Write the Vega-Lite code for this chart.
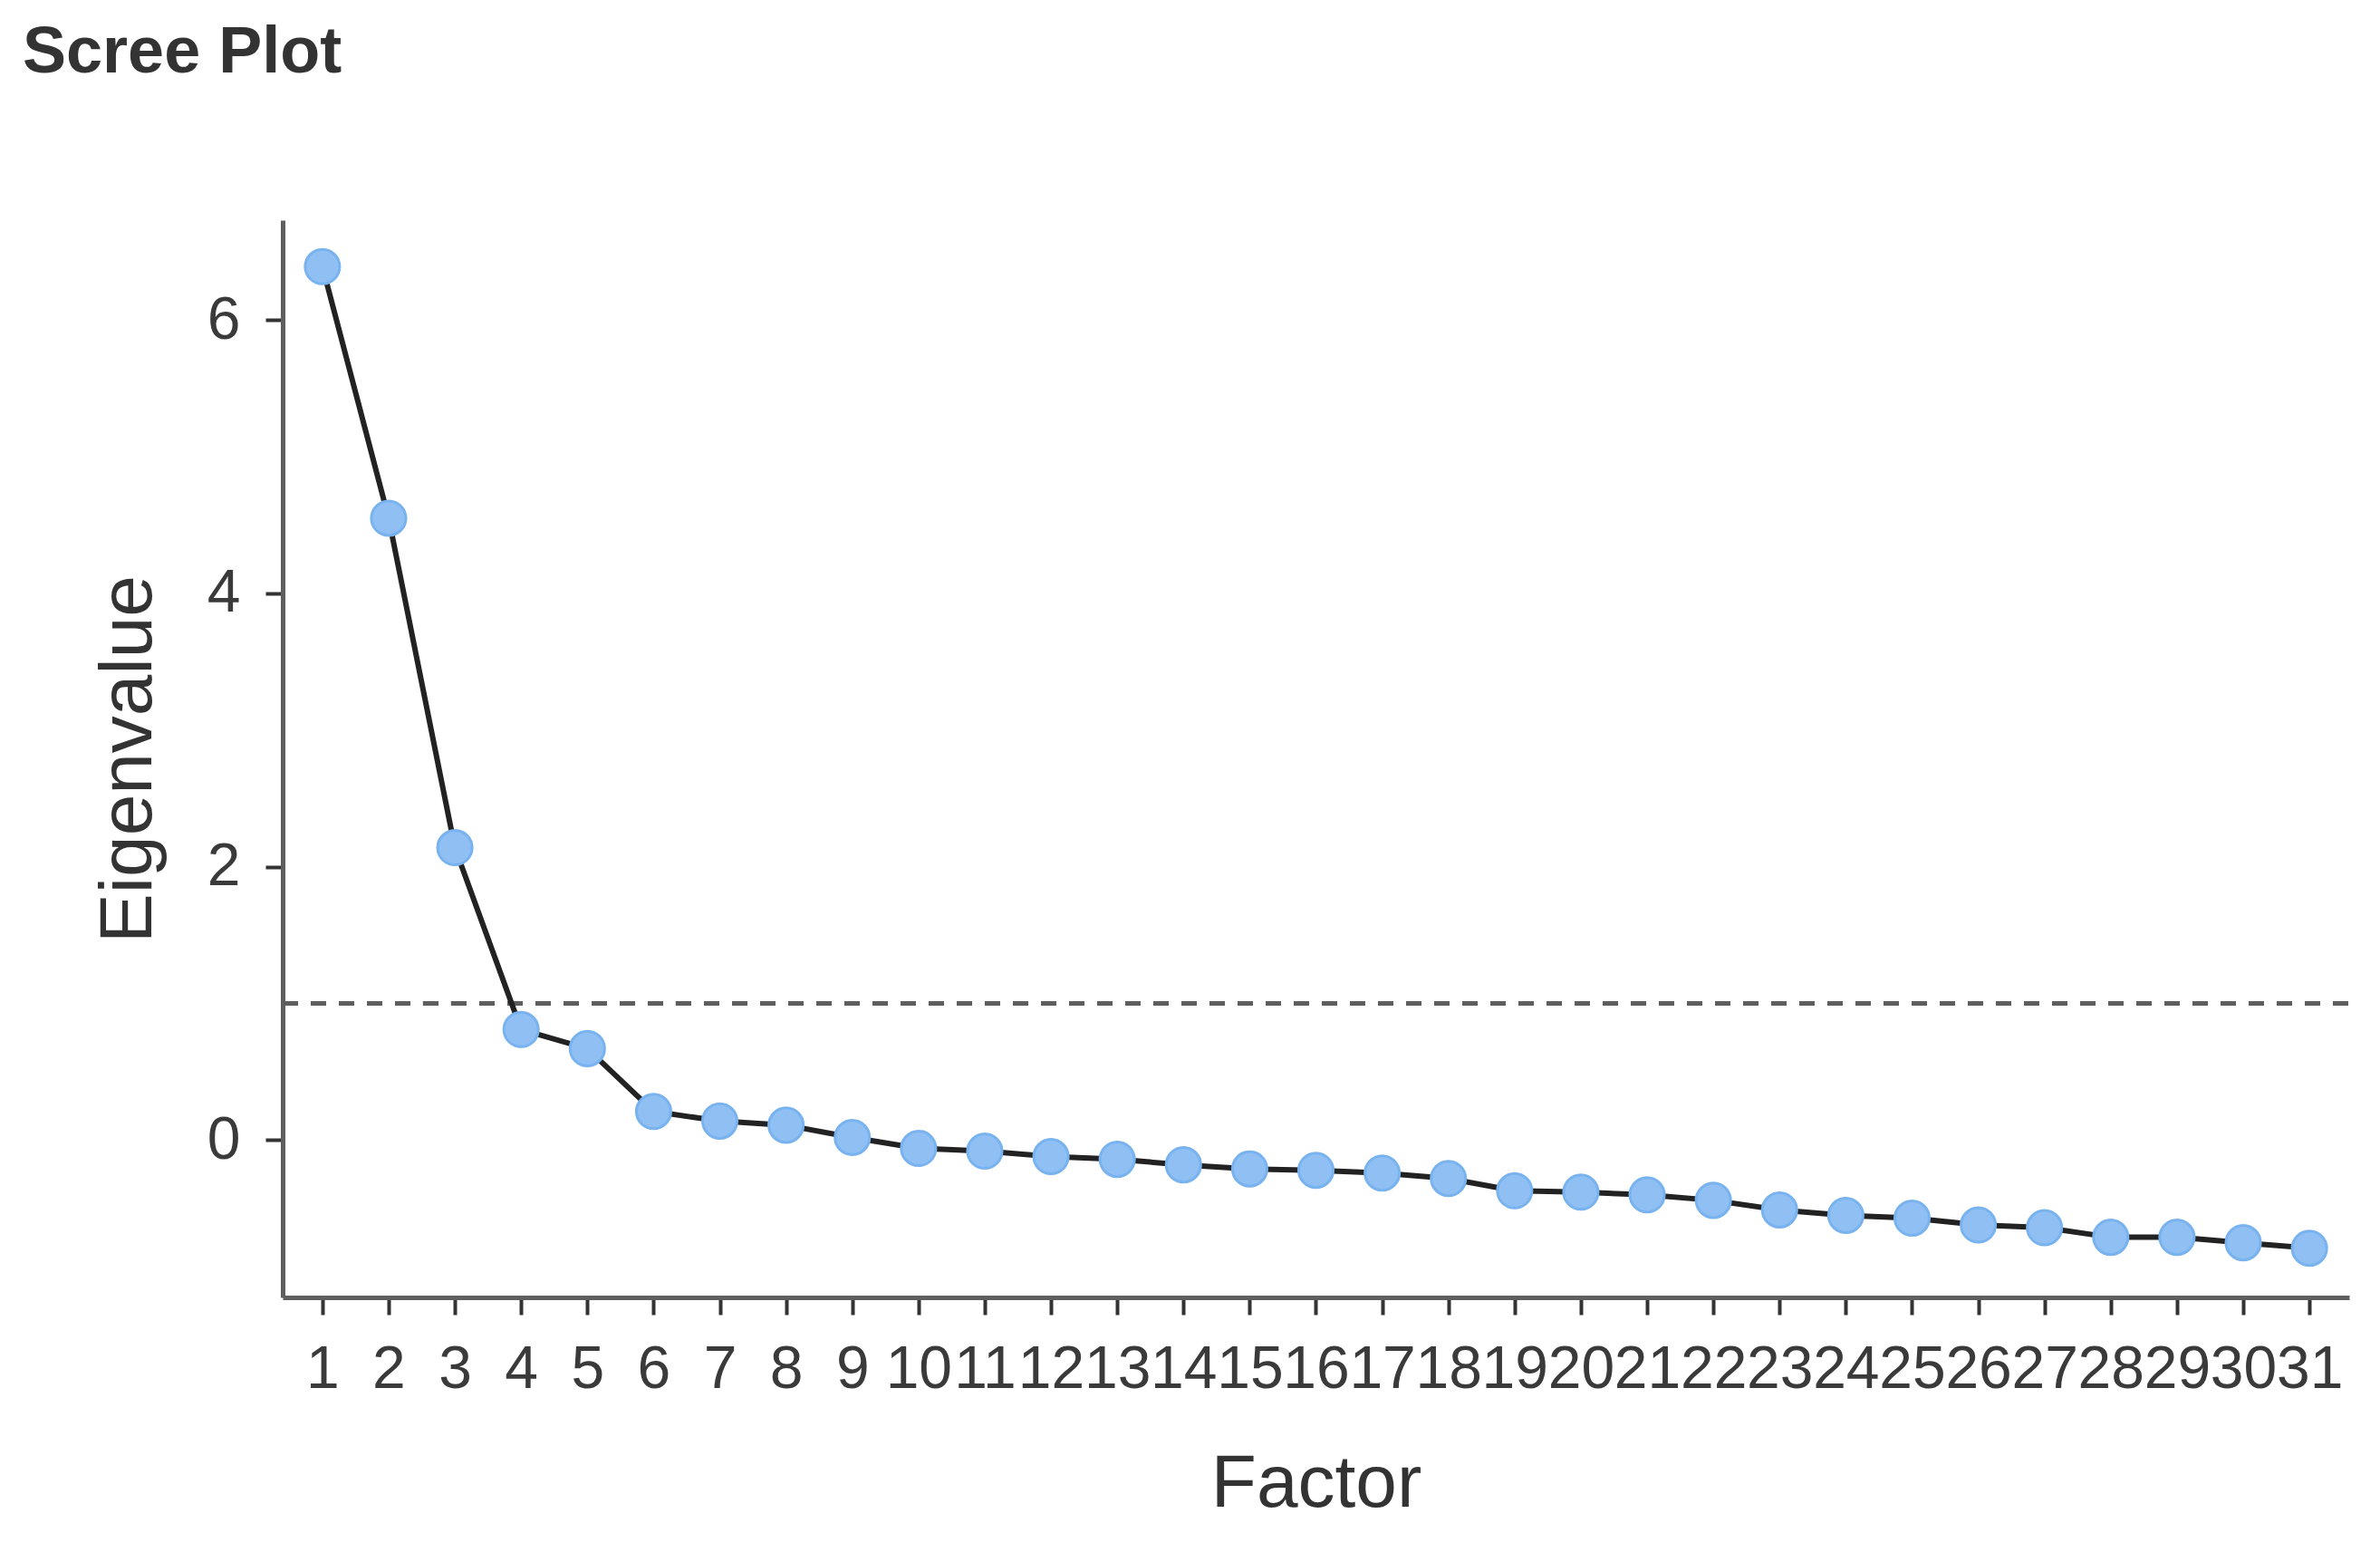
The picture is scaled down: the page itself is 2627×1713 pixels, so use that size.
{
  "$schema": "https://vega.github.io/schema/vega-lite/v6.json",
  "width": 2281,
  "height": 1189,
  "autosize": {"type": "none"},
  "padding": {"left": 312, "top": 243, "right": 34, "bottom": 281},
  "background": "white",
  "title": {
    "text": "Scree Plot",
    "anchor": "start",
    "frame": "group",
    "fontSize": 72,
    "fontWeight": "bold",
    "font": "Liberation Sans",
    "color": "#333333",
    "dx": -287,
    "offset": 148
  },
  "config": {
    "view": {"stroke": null},
    "axis": {
      "grid": false,
      "labelFont": "Liberation Sans",
      "titleFont": "Liberation Sans",
      "labelFontSize": 66,
      "titleFontSize": 82,
      "titleFontWeight": "normal",
      "labelColor": "#3a3a3a",
      "titleColor": "#333333",
      "domainColor": "#5f5f5f",
      "domainWidth": 5,
      "tickColor": "#333333",
      "tickWidth": 4,
      "tickSize": 19,
      "labelPadding": 28
    }
  },
  "data": {
    "values": [
      {"factor": 1, "eigen": 6.39},
      {"factor": 2, "eigen": 4.55},
      {"factor": 3, "eigen": 2.14},
      {"factor": 4, "eigen": 0.81},
      {"factor": 5, "eigen": 0.67},
      {"factor": 6, "eigen": 0.21},
      {"factor": 7, "eigen": 0.14},
      {"factor": 8, "eigen": 0.11},
      {"factor": 9, "eigen": 0.02},
      {"factor": 10, "eigen": -0.06},
      {"factor": 11, "eigen": -0.08},
      {"factor": 12, "eigen": -0.12},
      {"factor": 13, "eigen": -0.14},
      {"factor": 14, "eigen": -0.18},
      {"factor": 15, "eigen": -0.21},
      {"factor": 16, "eigen": -0.22},
      {"factor": 17, "eigen": -0.24},
      {"factor": 18, "eigen": -0.28},
      {"factor": 19, "eigen": -0.37},
      {"factor": 20, "eigen": -0.38},
      {"factor": 21, "eigen": -0.40},
      {"factor": 22, "eigen": -0.44},
      {"factor": 23, "eigen": -0.51},
      {"factor": 24, "eigen": -0.55},
      {"factor": 25, "eigen": -0.57},
      {"factor": 26, "eigen": -0.62},
      {"factor": 27, "eigen": -0.64},
      {"factor": 28, "eigen": -0.71},
      {"factor": 29, "eigen": -0.71},
      {"factor": 30, "eigen": -0.75},
      {"factor": 31, "eigen": -0.79}
    ]
  },
  "encoding": {
    "x": {
      "field": "factor",
      "type": "quantitative",
      "scale": {"domain": [0.4, 31.6], "nice": false, "zero": false},
      "axis": {
        "title": "Factor",
        "values": [1,2,3,4,5,6,7,8,9,10,11,12,13,14,15,16,17,18,19,20,21,22,23,24,25,26,27,28,29,30,31],
        "labelOverlap": false,
        "labelFlush": false,
        "format": "d",
        "titleY": 230,
        "titleBaseline": "alphabetic"
      }
    },
    "y": {
      "field": "eigen",
      "type": "quantitative",
      "scale": {"domain": [-1.15, 6.73], "nice": false, "zero": false},
      "axis": {
        "title": "Eigenvalue",
        "values": [0, 2, 4, 6],
        "labelFlush": false,
        "titleX": -146,
        "titleBaseline": "alphabetic"
      }
    }
  },
  "layer": [
    {
      "mark": {"type": "rule", "color": "#5e5e5e", "strokeWidth": 5, "strokeDash": [17, 14]},
      "encoding": {"x": {"value": 0}, "x2": {"value": 2281}, "y": {"datum": 1}}
    },
    {
      "mark": {"type": "line", "color": "#222222", "strokeWidth": 6}
    },
    {
      "mark": {"type": "point", "filled": true, "shape": "circle", "size": 1450, "fill": "#8fbff3", "stroke": "#79b3ef", "strokeWidth": 3, "opacity": 1}
    }
  ]
}
